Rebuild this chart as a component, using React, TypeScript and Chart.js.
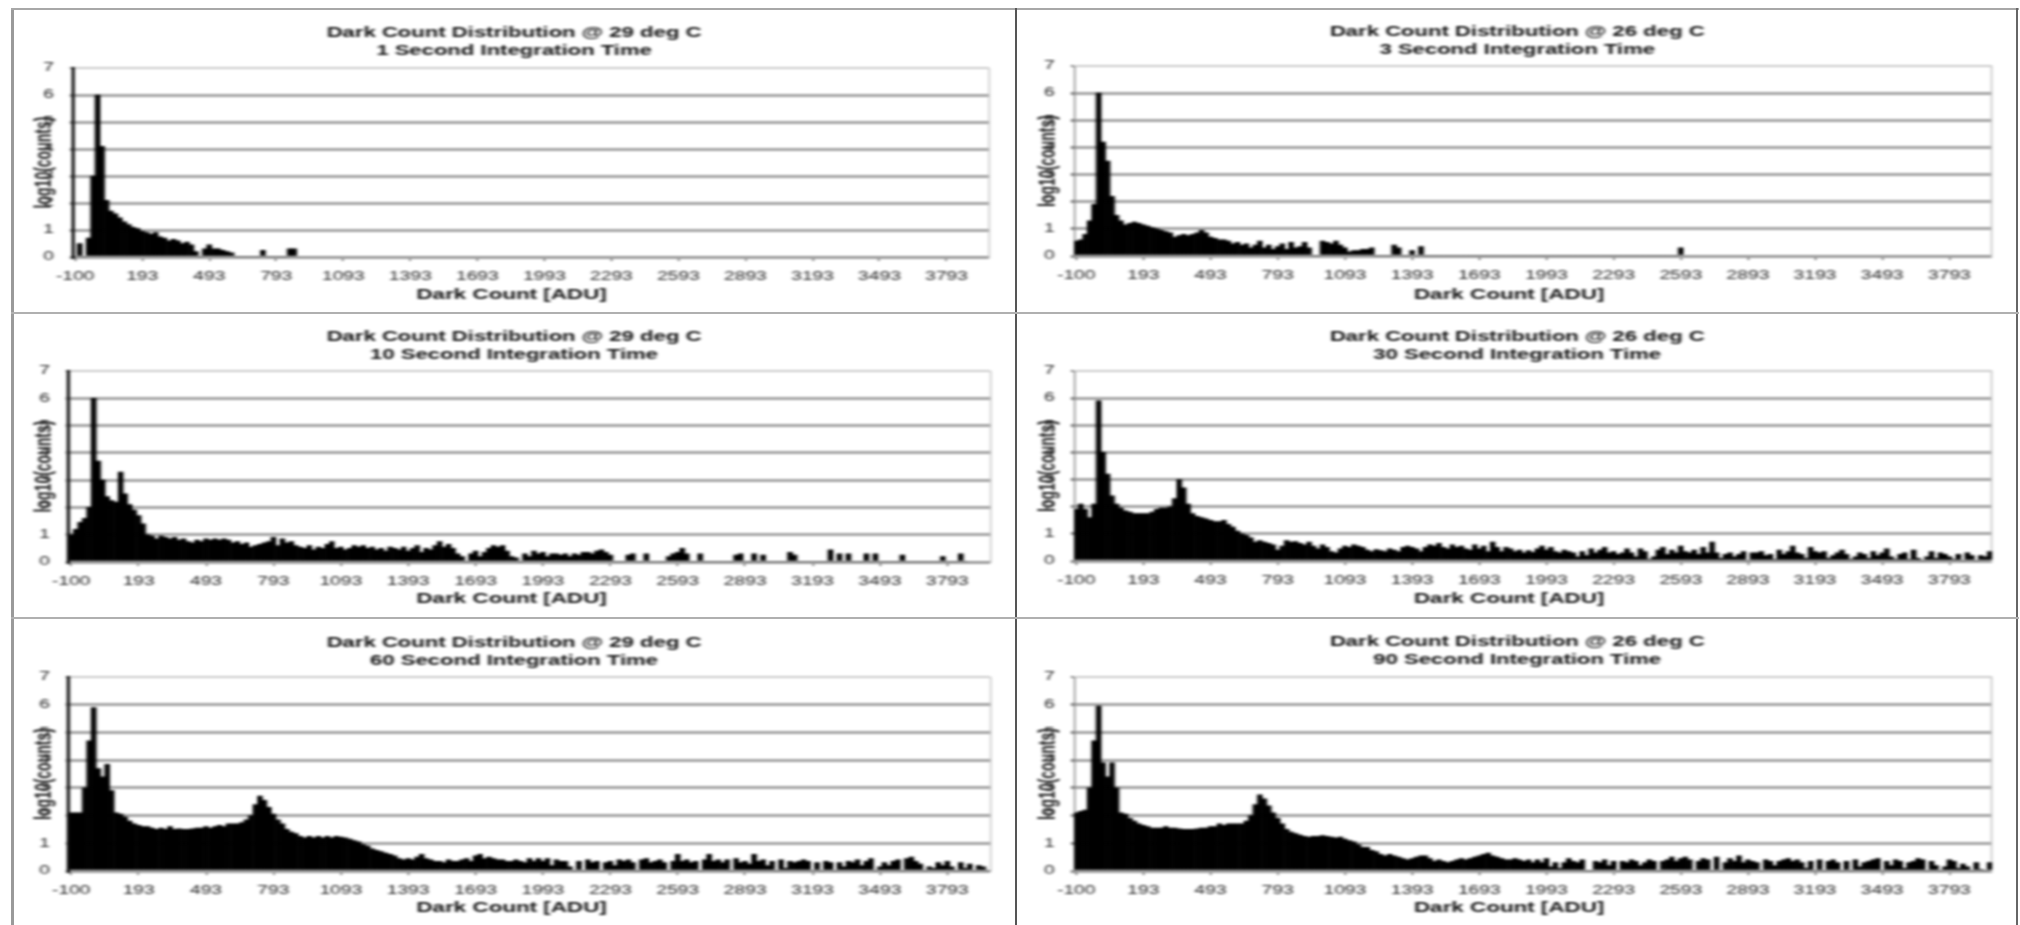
import React, { useEffect, useRef } from "react";
import { Chart, registerables } from "chart.js";

Chart.register(...registerables);

const xTickLabels = ["-100", "193", "493", "793", "1093", "1393", "1693", "1993", "2293", "2593", "2893", "3193", "3493", "3793"];
const TICK_EVERY = 15;
const BIN_COUNT = 205;
const binLabels: string[] = Array.from({ length: BIN_COUNT }, (_, i) => (i % TICK_EVERY === 0 ? xTickLabels[i / TICK_EVERY] ?? "" : ""));

const titleTemp29 = "Dark Count Distribution @ 29 deg C";
const titleTemp26 = "Dark Count Distribution @ 26 deg C";
const xAxisTitle = "Dark Count [ADU]";
const subtitles = ["1 Second Integration Time", "3 Second Integration Time", "10 Second Integration Time", "30 Second Integration Time", "60 Second Integration Time", "90 Second Integration Time"];

const counts1s = [0,.5,0,.7,3,6,4.1,2.1,1.7,1.6,1.45,1.3,1.2,1.1,1.05,.95,.9,.85,.9,.75,.7,.6,.65,.6,.5,.55,.45,.2,0,.3,.45,.3,.3,.25,.2,.15,0,0,0,0,0,0,.25,0,0,0,0,0,.3,.3];
const counts3s = [.55,.6,.8,1.3,1.9,6,4.2,3.5,2.2,1.5,1.3,1.15,1.2,1.25,1.2,1.15,1.1,1.05,1,.95,.9,.85,.7,.75,.8,.75,.8,.85,.95,.85,.7,.65,.6,.6,.55,.45,.5,.4,.45,.3,.4,.55,.3,.4,.25,.35,.45,.25,.5,.3,.35,.5,.3,0,0,.55,.5,.45,.55,.4,.3,.15,.2,.2,.25,.25,.3,0,0,0,0,.4,.3,0,0,.2,0,.35,0,0,0,0,0,0,0,0,0,0,0,0,0,0,0,0,0,0,0,0,0,0,0,0,0,0,0,0,0,0,0,0,0,0,0,0,0,0,0,0,0,0,0,0,0,0,0,0,0,0,0,0,0,0,0,0,0,.3];
const counts10s = [
  1,1.2,1.45,1.6,2,6,3.7,3,2.4,2.25,
  2.2,3.3,2.5,2.1,1.9,1.7,1.4,1,.95,.85,
  .95,.9,.85,.9,.8,.85,.75,.7,.8,.75,
  .85,.8,.85,.8,.85,.8,.7,.75,.65,.7,
  .55,.6,.65,.7,.75,.9,.6,.85,.7,.75,
  .6,.55,.5,.6,.45,.55,.5,.65,.75,.5,
  .55,.45,.5,.6,.55,.6,.5,.55,.45,.5,
  .4,.55,.5,.45,.55,.4,.5,.6,.35,.5,
  .45,.6,.75,.55,.65,.5,.3,.2,0,.3,
  .4,.2,.35,.5,.6,.55,.6,.4,.2,.15,
  0,.3,.2,.4,.3,.35,.2,.3,.3,.25,
  .3,.2,.3,.25,.35,.35,.3,.4,.45,.35,
  .25,0,0,0,.25,.3,0,0,.3,0,
  0,0,0,.2,.3,.35,.5,.3,0,0,
  .3,0,0,0,0,0,0,0,.25,.3,
  0,0,.3,0,.25,0,0,0,0,0,
  .35,.25,0,0,0,0,0,0,0,.45,
  0,.3,0,.3,0,0,0,.3,0,.3,
  0,0,0,0,0,.25,0,0,0,0,
  0,0,0,0,.2,0,0,0,.3,0,
];
const counts30s = [
  1.9,2.1,1.9,1.6,2.1,5.9,4,3.2,2.4,2.1,
  1.95,1.85,1.8,1.75,1.75,1.75,1.75,1.8,1.9,1.95,
  1.95,2,2.3,3,2.7,2.1,1.75,1.65,1.6,1.55,
  1.5,1.45,1.45,1.5,1.35,1.25,1.1,1,.95,.85,
  .7,.75,.7,.65,.6,.4,.55,.75,.7,.72,
  .65,.6,.7,.55,.45,.6,.5,.35,.3,.45,
  .55,.5,.6,.55,.5,.4,.35,.42,.38,.35,
  .45,.4,.35,.5,.55,.5,.45,.35,.5,.6,
  .55,.65,.5,.45,.6,.5,.55,.45,.4,.6,
  .45,.55,.35,.7,.5,.35,.5,.45,.35,.4,
  .3,.38,.32,.45,.55,.4,.5,.35,.3,.4,
  .35,.3,.15,.35,.2,.45,.3,.4,.5,.3,
  .35,.25,.3,.45,.3,.15,.45,.35,.05,.15,
  .4,.5,.25,.4,.3,.55,.35,.3,.4,.25,
  .5,.3,.7,.3,.1,.25,.3,.15,.25,.35,
  0,.3,.3,.35,.2,.25,.05,.4,.25,.35,
  .55,.3,.25,.1,.5,.35,.3,.35,.1,.2,
  .3,.4,.25,.05,.15,.3,.25,.1,.35,.2,
  .3,.45,.15,.05,.25,.3,.05,.4,.1,0,
  .15,.35,.1,.3,.25,.15,.05,.25,0,.3,
  .2,0,.2,.15,.35,
];
const counts60s = [
  2.1,2.1,2.1,3,4.7,5.9,3.7,3.4,3.85,2.9,
  2.1,2.05,1.95,1.8,1.7,1.65,1.6,1.6,1.55,1.5,
  1.55,1.5,1.6,1.5,1.52,1.5,1.5,1.52,1.55,1.55,
  1.6,1.55,1.6,1.65,1.6,1.7,1.7,1.7,1.75,1.85,
  2,2.4,2.7,2.55,2.3,2.05,1.85,1.7,1.5,1.4,
  1.35,1.25,1.2,1.25,1.2,1.25,1.2,1.25,1.2,1.25,
  1.22,1.2,1.15,1.1,1.05,.95,.9,.8,.75,.7,
  .65,.6,.55,.45,.4,.45,.4,.5,.6,.45,
  .4,.35,.35,.3,.4,.35,.35,.4,.45,.35,
  .55,.6,.45,.5,.45,.4,.4,.35,.35,.4,
  .35,.3,.45,.35,.45,.35,.45,.2,.4,.35,
  .35,.15,0,.35,0,.4,.3,.35,0,.3,
  .35,.2,.4,.35,.4,.3,0,.4,.45,.3,
  .35,.4,.3,0,.35,.6,.35,.4,.3,.35,
  0,.4,.6,.35,.4,.3,.4,0,.45,.3,
  .35,.25,.6,.35,.4,.2,.35,0,.4,.1,
  .35,.3,.35,.4,.35,0,.3,0,.35,.3,
  0,.3,.15,.35,.3,.4,.2,.35,.45,0,
  .15,.3,.2,.35,.4,0,.45,.5,.35,.25,
  0,.15,.1,.3,.2,.35,.15,0,.3,.1,
  .25,0,.2,.15,0,
];
const counts90s = [
  2.1,2.15,2.2,3,4.7,5.95,3.9,3.4,3.9,3,
  2.1,2.05,1.9,1.8,1.7,1.65,1.6,1.55,1.55,1.55,
  1.6,1.55,1.55,1.52,1.5,1.5,1.5,1.52,1.55,1.55,
  1.6,1.6,1.7,1.65,1.7,1.7,1.7,1.7,1.8,2,
  2.4,2.75,2.6,2.35,2.1,1.9,1.7,1.5,1.4,1.35,
  1.3,1.25,1.22,1.25,1.25,1.28,1.25,1.22,1.2,1.22,
  1.15,1.1,1.05,.95,.85,.85,.75,.7,.6,.55,
  .6,.55,.5,.45,.4,.45,.5,.55,.55,.45,
  .35,.4,.35,.3,.35,.4,.45,.4,.45,.5,
  .55,.6,.65,.55,.5,.45,.4,.4,.45,.4,
  .35,.4,.3,.4,.3,.45,.15,.3,.1,.3,
  .45,.35,.3,.4,0,0,.35,.3,.4,.2,
  .35,0,.35,.3,.4,.35,.2,.3,.4,.35,
  0,.35,.4,.5,.35,.45,.5,.4,0,.35,
  .45,.4,0,.5,0,.3,.45,.35,.55,.3,
  .4,.35,.3,0,.4,.35,.2,.35,.4,.45,
  .35,.4,.3,.1,.35,0,.4,0,.35,.4,
  .3,0,.35,0,.4,.15,.3,.35,.4,.45,
  0,.35,.2,.4,.35,.1,.3,.35,.45,.4,
  0,.35,.2,0,.15,.4,.35,.1,.25,.15,
  0,.3,.05,0,.3,
];

const panelValues = [counts1s, counts3s, counts10s, counts30s, counts60s, counts90s];
const panelTitles = [titleTemp29, titleTemp26, titleTemp29, titleTemp26, titleTemp29, titleTemp26];

const STRETCH = 1.6;
const panelBoxes = [
  { left: 14, top: 12, width: 1000, height: 298, plotLeft: 73, plotRight: 989, plotTop: 68, plotBottom: 257, titleY: 33 },
  { left: 1018, top: 12, width: 998, height: 298, plotLeft: 1074, plotRight: 1992, plotTop: 66, plotBottom: 256, titleY: 32 },
  { left: 14, top: 316, width: 1000, height: 298, plotLeft: 69, plotRight: 990, plotTop: 371, plotBottom: 562, titleY: 337 },
  { left: 1018, top: 316, width: 998, height: 298, plotLeft: 1074, plotRight: 1992, plotTop: 371, plotBottom: 561, titleY: 337 },
  { left: 14, top: 621, width: 1000, height: 302, plotLeft: 69, plotRight: 990, plotTop: 677, plotBottom: 871, titleY: 643 },
  { left: 1018, top: 621, width: 998, height: 302, plotLeft: 1074, plotRight: 1992, plotTop: 677, plotBottom: 871, titleY: 642 },
];

const FONT = "'Liberation Sans', Arial, sans-serif";

function Panel({ index }: { index: number }) {
  const ref = useRef<HTMLCanvasElement>(null);
  useEffect(() => {
    const box = panelBoxes[index];
    const canvas = ref.current!;
    const w = Math.round(box.width / STRETCH);
    const titleLine = 18.5;
    const titleTop = box.titleY - titleLine / 2 - box.top;
    const titleBottom = box.plotTop - box.top - titleTop - titleLine * 2;
    const yWidth = (box.plotLeft - box.left) / STRETCH;
    const rightWidth = w - (box.plotRight - box.left) / STRETCH;
    const xHeight = box.top + box.height - box.plotBottom;
    const leftCol = index % 2 === 0;
    const xTitleCentre = leftCol ? 311 : 307;
    const chart = new Chart(canvas, {
      type: "bar",
      data: {
        labels: binLabels,
        datasets: [{
          data: panelValues[index],
          backgroundColor: "#000000",
          borderWidth: 0,
          barPercentage: 1,
          categoryPercentage: 1,
        }],
      },
      options: {
        animation: false,
        responsive: false,
        devicePixelRatio: 1,
        layout: { padding: 0 },
        plugins: {
          legend: { display: false },
          tooltip: { enabled: false },
          title: {
            display: true,
            text: [panelTitles[index], subtitles[index]],
            color: "#111",
            font: { family: FONT, size: 13.8, weight: "bold", lineHeight: titleLine / 13.8 },
            padding: { top: titleTop, bottom: titleBottom },
          },
        },
        scales: {
          x: {
            type: "category",
            afterFit: (s: any) => { s.height = xHeight; },
            border: { color: "#9a9a9a", width: 2 },
            grid: {
              offset: false,
              drawOnChartArea: false,
              drawTicks: true,
              tickLength: 4,
              tickWidth: 1,
              tickColor: (c: any) => (c.index % TICK_EVERY === 0 ? "#555" : "rgba(0,0,0,0)"),
            },
            ticks: {
              autoSkip: false,
              maxRotation: 0,
              minRotation: 0,
              padding: 8,
              color: "#222",
              font: { family: FONT, size: 12 },
              callback: (_v: any, i: number) => binLabels[i],
            },
          },
          y: {
            min: 0,
            max: 7,
            afterFit: (s: any) => { s.width = yWidth; },
            border: { color: leftCol ? "#111" : "#888", width: leftCol ? 2 : 1 },
            grid: {
              color: (c: any) => (c.tick?.value === 7 ? "#cccccc" : "#a6a6a6"),
              lineWidth: (c: any) => (c.tick?.value === 7 ? 2 : 3),
              tickLength: 2,
              tickColor: "#888",
            },
            ticks: {
              stepSize: 1,
              padding: 10,
              color: "#222",
              font: { family: FONT, size: 12 },
            },
            title: {
              display: true,
              text: "log10(counts)",
              color: "#222",
              font: { family: FONT, size: 14, weight: "bold", lineHeight: 1.1 },
              padding: { top: 11, bottom: 0 },
            },
          },
          edge: {
            type: "linear",
            position: "right",
            display: true,
            afterFit: (s: any) => { s.width = rightWidth; },
            border: { display: true, color: "#c4c4c4", width: 1 },
            grid: { display: false },
            ticks: { display: false },
          },
        },
      },
      plugins: [{
        id: "xAxisTitle",
        afterDraw(c: any) {
          const { ctx } = c;
          ctx.save();
          ctx.font = `bold 14px ${FONT}`;
          ctx.fillStyle = "#111";
          ctx.textAlign = "center";
          ctx.textBaseline = "middle";
          ctx.fillText(xAxisTitle, xTitleCentre, box.height - 15);
          ctx.restore();
        },
      }],
    } as any);
    return () => chart.destroy();
  }, [index]);

  const box = panelBoxes[index];
  return (
    <canvas
      ref={ref}
      width={Math.round(box.width / STRETCH)}
      height={box.height}
      style={{
        position: "absolute",
        left: box.left,
        top: box.top,
        transform: `scaleX(${STRETCH})`,
        transformOrigin: "0 0",
        filter: "blur(1px)",
      }}
    />
  );
}

const line = (s: React.CSSProperties) => <div style={{ position: "absolute", filter: "blur(0.6px)", ...s }} />;

export default function App() {
  return (
    <div style={{ position: "fixed", left: 0, top: 0, width: 2020, height: 925, background: "#fff", overflow: "hidden" }}>
      {panelBoxes.map((_, i) => <Panel key={i} index={i} />)}
      {line({ left: 11, top: 8, width: 3, height: 917, background: "#9a9a9a" })}
      {line({ left: 11, top: 8, width: 2008, height: 2, background: "#a8a8a8" })}
      {line({ left: 1015, top: 8, width: 2, height: 917, background: "#555" })}
      {line({ left: 2016, top: 8, width: 2, height: 917, background: "#666" })}
      {line({ left: 11, top: 312, width: 2008, height: 2, background: "#b0b0b0" })}
      {line({ left: 11, top: 617, width: 2008, height: 2, background: "#b0b0b0" })}
    </div>
  );
}
